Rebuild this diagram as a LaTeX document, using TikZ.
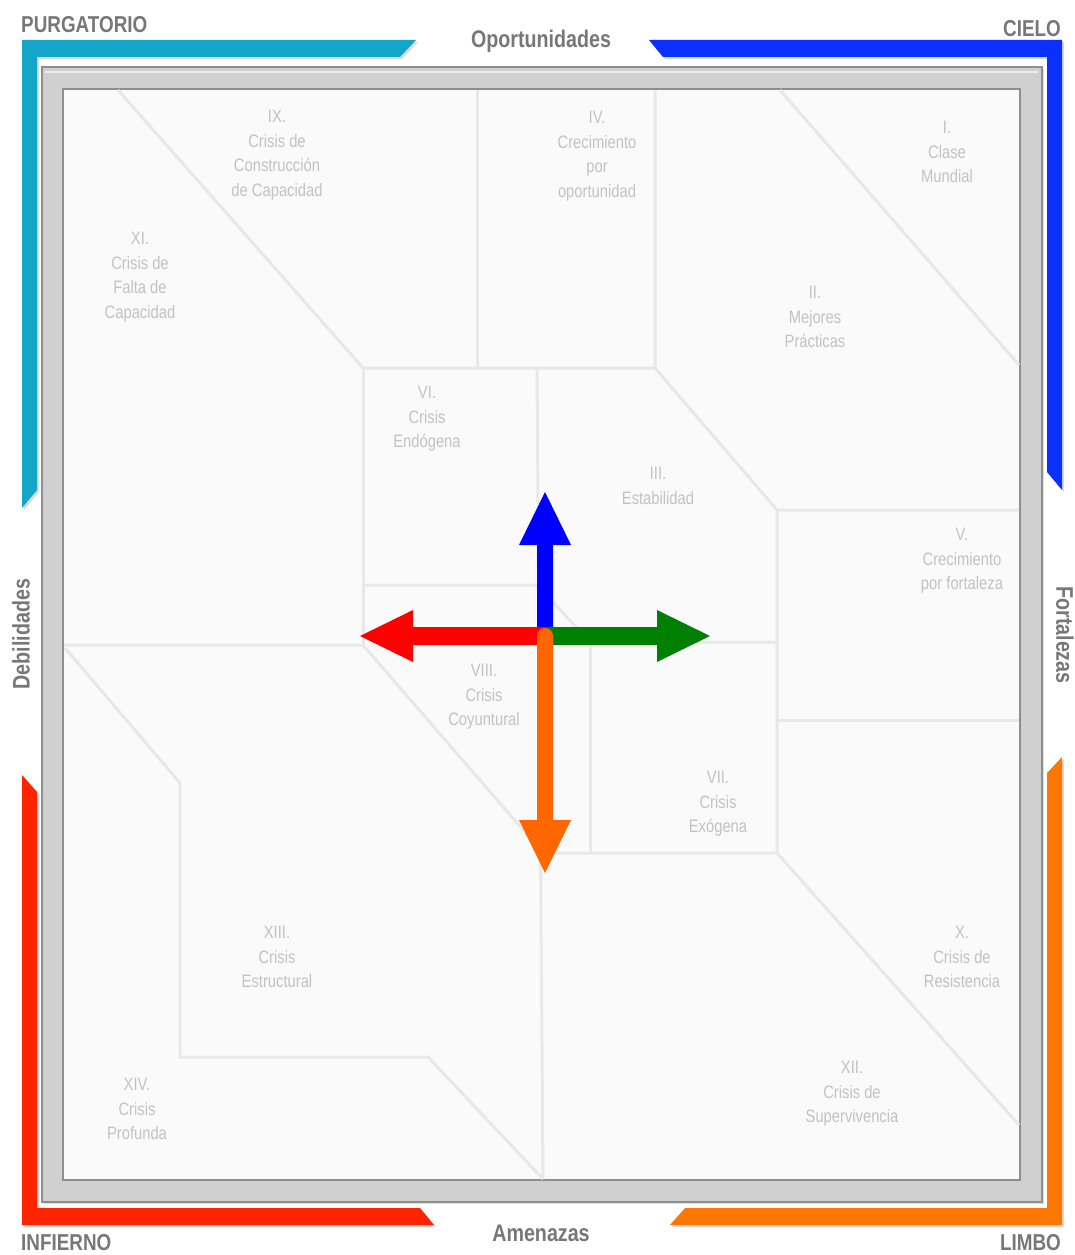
\documentclass[tikz,border=0pt]{standalone}
\usepackage{fontspec}
\newfontfamily\nar[FakeStretch=0.82]{Liberation Sans}
\usetikzlibrary{shadows}
\definecolor{cyanb}{HTML}{13A6C8}
\definecolor{blueb}{HTML}{0A30FF}
\definecolor{redb}{HTML}{FF2400}
\definecolor{orangeb}{HTML}{FF7700}
\definecolor{framefill}{HTML}{D0D0D0}
\definecolor{frameline}{HTML}{8E8E8E}
\definecolor{innerfill}{HTML}{FAFAFA}
\definecolor{sep}{HTML}{E8E8E8}
\definecolor{regtext}{HTML}{C2C2C2}
\definecolor{labtext}{HTML}{777777}
\definecolor{arrblue}{HTML}{0000FF}
\definecolor{arrred}{HTML}{FF0000}
\definecolor{arrgreen}{HTML}{008000}
\definecolor{arrorange}{HTML}{FF6600}
\begin{document}
\begin{tikzpicture}[x=1pt,y=-1pt,
  region/.style={align=center, text=regtext, font=\nar\fontsize{18}{24.5}\selectfont, inner sep=0pt, anchor=north},
  lab/.style={text=labtext, font=\nar\bfseries\fontsize{23}{26}\selectfont, inner sep=0pt},
  sepline/.style={draw=sep, line width=3pt, line join=miter},
  bracket/.style={drop shadow={opacity=0.3, shadow xshift=2pt, shadow yshift=-2pt}}]
\useasboundingbox (0,0) rectangle (1075,1255);

% corner brackets
\fill[cyanb, bracket] (22,40) -- (416,40) -- (400,57) -- (37,57) -- (37,490) -- (22,508) -- cycle;
\fill[blueb, bracket] (649,40) -- (1062,40) -- (1062,490) -- (1047,472) -- (1047,57) -- (663,57) -- cycle;
\fill[redb, bracket] (22,775) -- (37,792) -- (37,1208) -- (420,1208) -- (434,1225) -- (22,1225) -- cycle;
\fill[orangeb, bracket] (685,1208) -- (1047,1208) -- (1047,773) -- (1062,757) -- (1062,1225) -- (670,1225) -- cycle;

% frame
\filldraw[fill=framefill, draw=frameline, line width=1.5pt, drop shadow={opacity=0.25, shadow xshift=2pt, shadow yshift=-2pt}] (42,67) rectangle (1042,1202);
\draw[white!85!gray, line width=1pt] (45,72) -- (1038,72);
\filldraw[fill=innerfill, draw=frameline, line width=1.5pt] (63,89) rectangle (1020,1180);

% separator lines
\draw[sepline] (118,90) -- (363,368) -- (655,368);
\draw[sepline] (477,90) -- (477,368);
\draw[sepline] (655,90) -- (655,368) -- (777,510) -- (1019,510);
\draw[sepline] (780,90) -- (1019,365);
\draw[sepline] (363,368) -- (363,645);
\draw[sepline] (64,645) -- (363,645) -- (543,853) -- (777,853);
\draw[sepline] (363,585) -- (537,585) -- (590,642) -- (777,642);
\draw[sepline] (537,368) -- (543,1179);
\draw[sepline] (590,642) -- (590,853);
\draw[sepline] (777,510) -- (777,853) -- (1019,1125);
\draw[sepline] (777,720) -- (1019,720);
\draw[sepline] (65,648) -- (180,783) -- (180,1057) -- (428,1057) -- (543,1179);

% region texts
\node[region] (r9) at (277,110) {IX.\\Crisis de\\Construcción\\de Capacidad};
\node[region] (r11) at (140,232) {XI.\\Crisis de\\Falta de\\Capacidad};
\node[region] (r4) at (597,111) {IV.\\Crecimiento\\por\\oportunidad};
\node[region] (r1) at (947,121) {I.\\Clase\\Mundial};
\node[region] (r2) at (815,286) {II.\\Mejores\\Prácticas};
\node[region] (r6) at (427,386) {VI.\\Crisis\\Endógena};
\node[region] (r3) at (658,467) {III.\\Estabilidad};
\node[region] (r5) at (962,528) {V.\\Crecimiento\\por fortaleza};
\node[region] (r8) at (484,664) {VIII.\\Crisis\\Coyuntural};
\node[region] (r7) at (718,771) {VII.\\Crisis\\Exógena};
\node[region] (r13) at (277,926) {XIII.\\Crisis\\Estructural};
\node[region] (r10) at (962,926) {X.\\Crisis de\\Resistencia};
\node[region] (r12) at (852,1061) {XII.\\Crisis de\\Supervivencia};
\node[region] (r14) at (137,1078) {XIV.\\Crisis\\Profunda};

% outer labels
\node[lab, anchor=west] (purg) at (21,25) {PURGATORIO};
\node[lab, anchor=east] (cielo) at (1061,29) {CIELO};
\node[lab, anchor=base, font=\nar\bfseries\fontsize{24}{26}\selectfont] (opor) at (541,48) {Oportunidades};
\node[lab, anchor=base, font=\nar\bfseries\fontsize{24}{26}\selectfont] (amen) at (541,1241) {Amenazas};
\node[lab, anchor=base west] (inf) at (21,1250) {INFIERNO};
\node[lab, anchor=base east] (limbo) at (1061,1250) {LIMBO};
\node[lab, rotate=90, font=\nar\bfseries\fontsize{24}{26}\selectfont] (deb) at (21,634) {Debilidades};
\node[lab, rotate=-90, font=\nar\bfseries\fontsize{24}{26}\selectfont] (fort) at (1065,635) {Fortalezas};

% central arrows
\coordinate (c) at (545,636);
\fill[arrblue] (537,636) -- (537,545) -- (519,545) -- (545,492) -- (571,545) -- (553,545) -- (553,636) -- cycle;
\fill[arrred] (545,627) -- (413,627) -- (413,610) -- (360,636) -- (413,662) -- (413,645) -- (545,645) -- cycle;
\fill[arrgreen] (545,627) -- (657,627) -- (657,610) -- (710,636) -- (657,662) -- (657,645) -- (545,645) -- cycle;
\fill[arrorange] (537,820) -- (537,636) arc[start angle=180, end angle=360, radius=8] -- (553,820) -- (571,820) -- (545,873) -- (519,820) -- cycle;
\end{tikzpicture}
\end{document}
